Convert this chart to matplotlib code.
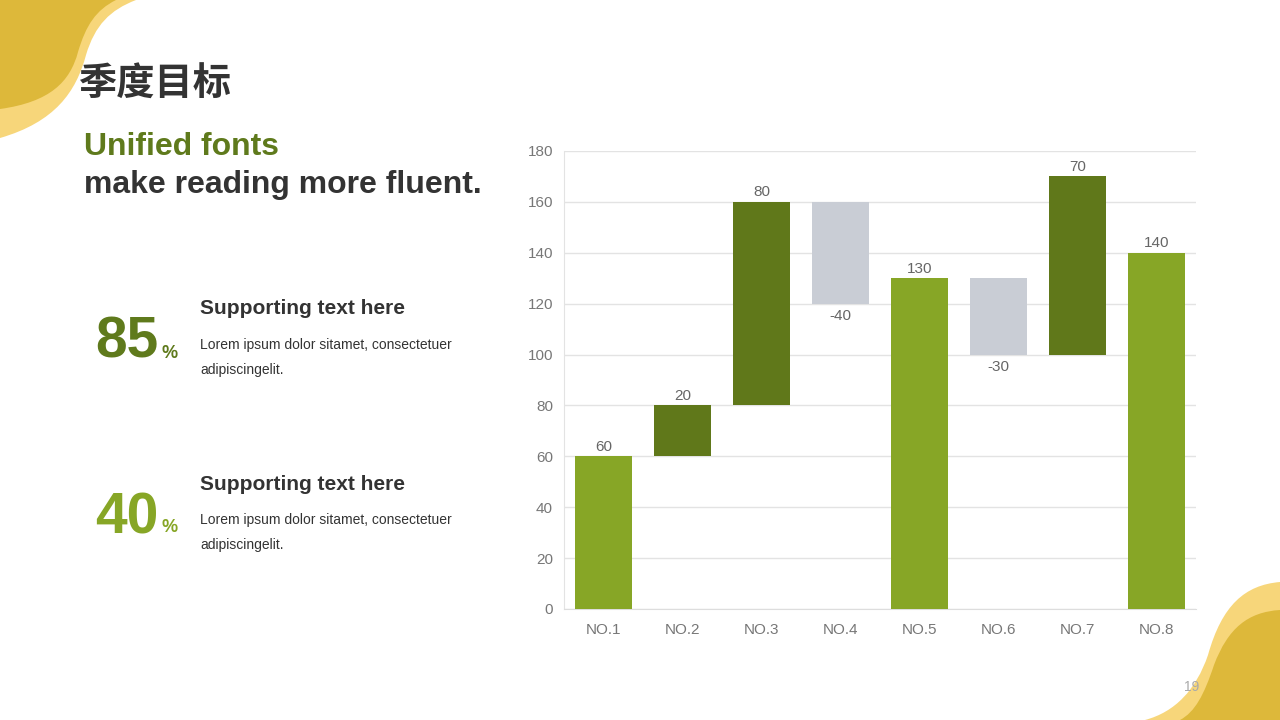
import matplotlib
matplotlib.use("Agg")
import matplotlib.pyplot as plt
from matplotlib.path import Path
from matplotlib.patches import PathPatch

plt.rcParams['font.family'] = ['Liberation Sans', 'Noto Sans CJK SC', 'DejaVu Sans']

categories = ["NO.1", "NO.2", "NO.3", "NO.4", "NO.5", "NO.6", "NO.7", "NO.8"]
values = [60, 20, 80, -40, 130, -30, 70, 140]
bases = [0, 60, 80, 160, 0, 130, 100, 0]
kinds = ["total", "up", "up", "down", "total", "down", "up", "total"]
yticks = [0, 20, 40, 60, 80, 100, 120, 140, 160, 180]

colors = {"total": "#87A626", "up": "#60781A", "down": "#C9CDD5"}

fig = plt.figure(figsize=(12.8, 7.2), dpi=100)
W, H = 1280, 720

# background decoration layer (pixel coordinates)
bg = fig.add_axes([0, 0, 1, 1])
bg.set_xlim(0, W)
bg.set_ylim(H, 0)
bg.axis("off")

def blob(verts, codes, color):
    bg.add_patch(PathPatch(Path(verts, codes), facecolor=color, edgecolor="none"))

M, L, C, Z = Path.MOVETO, Path.LINETO, Path.CURVE4, Path.CLOSEPOLY
# top-left light
blob([(0, 0), (136, 0), (110, 10), (95, 25), (86, 55), (76, 92), (55, 122), (0, 138), (0, 0), (0, 0)],
     [M, L, C, C, C, C, C, C, L, Z], "#F7D67A")
# top-left dark
blob([(0, 0), (116, 0), (96, 10), (86, 25), (78, 52), (70, 82), (50, 102), (0, 109), (0, 0), (0, 0)],
     [M, L, C, C, C, C, C, C, L, Z], "#DDB83A")
# bottom-right light
blob([(1280, 582), (1245, 585), (1222, 605), (1208, 655), (1196, 690), (1175, 712), (1145, 720), (1280, 720), (1280, 582)],
     [M, C, C, C, C, C, C, L, Z], "#F7D67A")
# bottom-right dark
blob([(1280, 610), (1248, 612), (1228, 628), (1214, 665), (1204, 695), (1195, 712), (1180, 720), (1280, 720), (1280, 610)],
     [M, C, C, C, C, C, C, L, Z], "#DDB83A")

# texts
fig.text(79 / W, 1 - 84 / H, "季度目标", fontsize=27.5, fontweight="bold", color="#333333",
         family=['Noto Sans CJK SC', 'DejaVu Sans'], va="center", ha="left")
fig.text(84 / W, 1 - 147 / H, "Unified fonts", fontsize=23, fontweight="bold", color="#5F7A1C", va="center")
fig.text(84 / W, 1 - 185 / H, "make reading more fluent.", fontsize=23, fontweight="bold", color="#333333", va="center")

for y0, num, col in [(340, "85", "#5F7A1C"), (515, "40", "#87A626")]:
    fig.text(95 / W, 1 - (y0 + 3) / H, num, fontsize=41, fontweight="bold", color=col, va="center", ha="left")
    fig.text(161 / W, 1 - (y0 + 13) / H, "%", fontsize=13, fontweight="bold", color=col, va="center", ha="left")
    fig.text(200 / W, 1 - (y0 - 31) / H, "Supporting text here", fontsize=15, fontweight="bold", color="#333333", va="center")
    fig.text(200 / W, 1 - (y0 + 5) / H, "Lorem ipsum dolor sitamet, consectetuer", fontsize=10, color="#333333", va="center")
    fig.text(200 / W, 1 - (y0 + 30) / H, "adipiscingelit.", fontsize=10, color="#333333", va="center")

fig.text(1192 / W, 1 - 687 / H, "19", fontsize=10, color="#AAAAAA", va="center", ha="center")

# chart
ax = fig.add_axes([564 / W, 1 - 609 / H, (1196 - 564) / W, (609 - 151) / H])
ax.patch.set_alpha(0)
x = list(range(len(categories)))
heights = [abs(v) if k != "total" else v for v, k in zip(values, kinds)]
bottoms = [b - abs(v) if k == "down" else b for b, v, k in zip(bases, values, kinds)]
ax.bar(x, heights, bottom=bottoms, width=0.71,
       color=[colors[k] for k in kinds], zorder=3)
for i, (v, b, k) in enumerate(zip(values, bases, kinds)):
    if k == "down":
        ax.text(i, b + v - 2, str(v), ha="center", va="top", fontsize=11, color="#666666")
    else:
        ax.text(i, b + v + 1, str(v), ha="center", va="bottom", fontsize=11, color="#666666")

ax.set_xlim(-0.5, len(categories) - 0.5)
ax.set_ylim(0, 180)
ax.set_yticks(yticks)
ax.set_xticks(x)
ax.set_xticklabels(categories)
ax.tick_params(axis="both", length=0, labelsize=11, labelcolor="#777777")
ax.tick_params(axis="y", pad=8)
ax.tick_params(axis="x", pad=10)
ax.grid(axis="y", color="#E3E3E3", linewidth=1, zorder=0)
for s in ["top", "right"]:
    ax.spines[s].set_visible(False)
ax.spines["left"].set_color("#E3E3E3")
ax.spines["bottom"].set_color("#DDDDDD")

fig.savefig("out.png", dpi=100)
